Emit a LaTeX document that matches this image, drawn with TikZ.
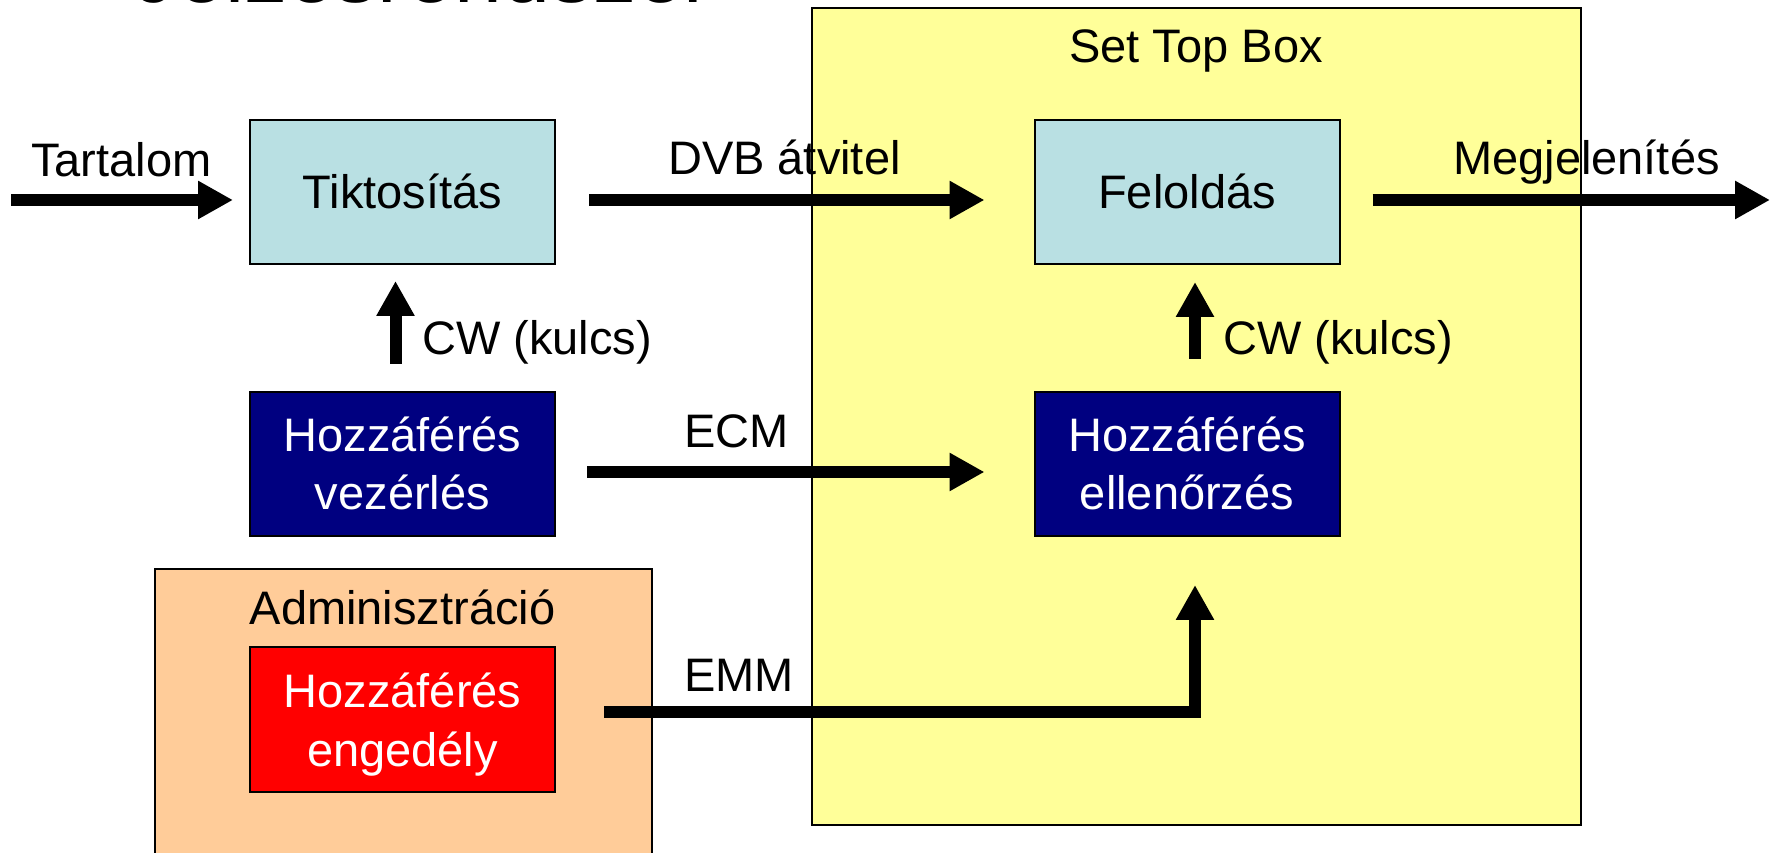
\documentclass[tikz,border=0pt]{standalone}
\usepackage{fontspec}
\setmainfont{Liberation Sans}
\usetikzlibrary{arrows.meta}
\definecolor{stbyellow}{RGB}{255,255,153}
\definecolor{adminpeach}{RGB}{255,204,153}
\definecolor{procblue}{RGB}{185,224,227}
\definecolor{ctrlnavy}{RGB}{0,0,128}
\begin{document}
\begin{tikzpicture}[x=1pt,y=1pt,
  every node/.style={inner sep=0pt},
  body/.style={font=\fontsize{47}{58}\selectfont},
  blk/.style={draw=black, line width=2pt, minimum width=305pt, minimum height=144pt,
              body, text height=34pt, text depth=0pt},
  lbl/.style={body, anchor=base west},
  inlbl/.style={body, text=white, anchor=base},
  fat/.style={line width=12pt, -{Triangle[length=35pt,width=36pt]}},
]
\clip (0,0) rectangle (1775,853);
\fill[white] (0,0) rectangle (1775,853);

% slide title, partly above the visible area
\node[anchor=base west, font=\fontsize{86}{100}\selectfont] (title) at (134,850) {Jelzésrendszer};

% receiver side container
\node[draw=black, fill=stbyellow, line width=2pt, minimum width=769pt, minimum height=817pt,
      anchor=north west] (stb) at (811,846) {};
\node[body, anchor=base] (stbt) at (1196,790) {Set Top Box};

% administration container
\node[draw=black, fill=adminpeach, line width=2pt, minimum width=497pt, minimum height=330pt,
      anchor=north west] (admin) at (154,285) {};
\node[body, anchor=base] (admint) at (402.5,228) {Adminisztráció};

% processing blocks
\node[blk, fill=procblue] (tik) at (402.5,661) {Tiktosítás};
\node[blk, fill=procblue] (fel) at (1187,661) {Feloldás};
\node[blk, fill=ctrlnavy] (vez) at (402.5,389) {};
\node[blk, fill=ctrlnavy] (ell) at (1187,389) {};
\node[blk, fill=red, minimum height=145pt] (eng) at (402.5,133.5) {};

\node[inlbl] (vez1) at (402.5,401) {Hozzáférés};
\node[inlbl] (vez2) at (402.5,343) {vezérlés};
\node[inlbl] (ell1) at (1187,401) {Hozzáférés};
\node[inlbl] (ell2) at (1187,343) {ellenőrzés};
\node[inlbl] (eng1) at (402.5,145) {Hozzáférés};
\node[inlbl] (eng2) at (402.5,86) {engedély};

% signal flow
\coordinate (src) at (11,653);
\coordinate (out) at (1770,653);
\draw[fat, shorten >=16pt] (src) -- ([yshift=-8pt]tik.west);
\draw[fat, shorten <=33pt, shorten >=49pt] ([yshift=-8pt]tik.east) -- ([yshift=-8pt]fel.west);
\draw[fat, shorten <=32pt] ([yshift=-8pt]fel.east) -- (out);
\draw[fat, shorten <=27pt, shorten >=16pt] ([xshift=-7pt]vez.north) -- ([xshift=-7pt]tik.south);
\draw[fat, shorten <=32pt, shorten >=17pt] ([xshift=8pt]ell.north) -- ([xshift=8pt]fel.south);
\draw[fat, shorten <=31pt, shorten >=49pt] ([yshift=-8pt]vez.east) -- ([yshift=-8pt]ell.west);
\draw[fat, shorten <=48pt, shorten >=48pt] ([yshift=7.5pt]eng.east) -| ([xshift=8pt]ell.south);

% connector labels
\node[lbl] (tartalom) at (31,676) {Tartalom};
\node[lbl] (dvb) at (668,678) {DVB átvitel};
\node[lbl] (megj) at (1453,678) {Megjelenítés};
\node[lbl] (cw1) at (422,498) {CW (kulcs)};
\node[lbl] (cw2) at (1223,498) {CW (kulcs)};
\node[lbl] (ecm) at (684,405) {ECM};
\node[lbl] (emm) at (684,161) {EMM};
\end{tikzpicture}
\end{document}
